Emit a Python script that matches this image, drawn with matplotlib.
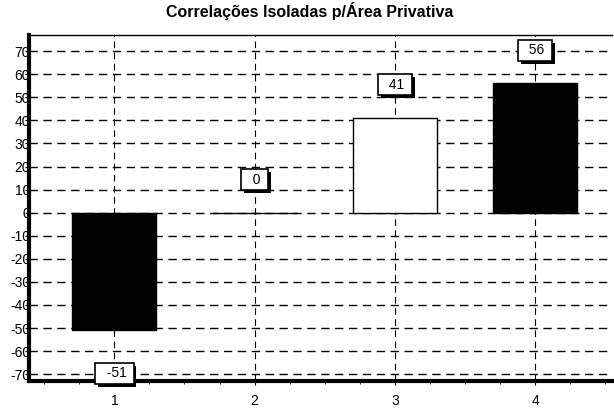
import matplotlib
matplotlib.use('Agg')
import matplotlib.pyplot as plt
import matplotlib.patheffects as pe
from matplotlib.ticker import MultipleLocator

plt.rcParams['font.family'] = ['Liberation Sans', 'DejaVu Sans']
plt.rcParams['axes.unicode_minus'] = False

categorias = [1, 2, 3, 4]
valores = [-51, 0, 41, 56]
cores = ['black', 'black', 'white', 'black']
yticks = [-70, -60, -50, -40, -30, -20, -10, 0, 10, 20, 30, 40, 50, 60, 70]

fig = plt.figure(figsize=(6.14, 4.12), dpi=100)
ax = fig.add_axes([0.047, 0.075, 0.95, 0.84])

ax.set_axisbelow(True)
ax.bar(categorias, valores, width=0.6, color=cores, edgecolor='black', linewidth=1)

for x, v in zip(categorias, valores):
    y = v + 15 if v >= 0 else v - 18
    t = ax.text(x, y, '  %d ' % v, ha='center', va='center_baseline', fontsize=10,
                bbox=dict(boxstyle='square,pad=0.25', fc='white', ec='black', lw=1.2))
    t.get_bbox_patch().set_path_effects([
        pe.SimplePatchShadow(offset=(2, -2), shadow_rgbFace='black', alpha=1),
        pe.Normal()])

ax.set_xlim(0.39, 4.55)
ax.set_ylim(-73, 77)
ax.set_xticks(categorias)
ax.set_yticks(yticks)
ax.xaxis.set_minor_locator(MultipleLocator(0.25))
ax.tick_params(axis='x', which='minor', length=2)
ax.tick_params(axis='y', pad=-4, labelsize=10, length=3)
ax.tick_params(axis='x', labelsize=10, length=3, pad=6)

ax.grid(axis='y', color='black', linestyle=(0, (6, 4)), linewidth=1)
ax.grid(axis='x', color='black', linestyle=(0, (6, 4)), linewidth=0.8)

ax.spines['left'].set_linewidth(3)
ax.spines['bottom'].set_linewidth(3)
ax.spines['top'].set_linewidth(1)
ax.spines['right'].set_visible(False)

ax.set_title('Correlações Isoladas p/Área Privativa', fontsize=11.5, fontweight='bold',
             pad=13, x=0.482)

fig.savefig('out.png', dpi=100)
